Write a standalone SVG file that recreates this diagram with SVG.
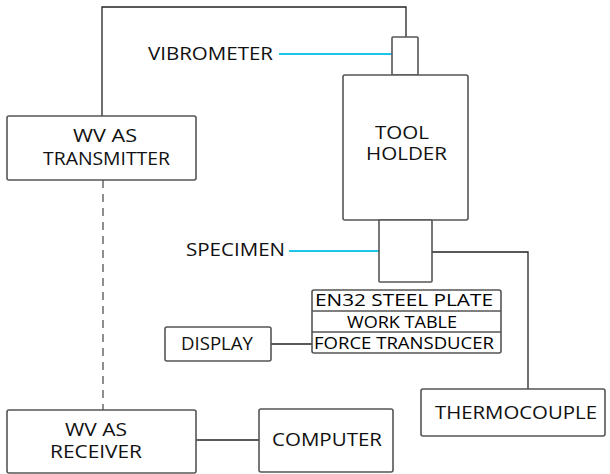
<svg xmlns="http://www.w3.org/2000/svg" width="610" height="474" viewBox="0 0 610 474">
<style>
.box{fill:#fff;stroke:#555;stroke-width:1.6}
.ln{fill:none;stroke:#222;stroke-width:1.3}
.cy{fill:none;stroke:#1cc6ea;stroke-width:1.8}
.dash{fill:none;stroke:#444;stroke-width:1.2;stroke-dasharray:8 6}
text{font-family:"Open Sans","Liberation Sans",sans-serif;font-size:17.5px;fill:#111}
.sm{font-size:16.5px;fill:#000}
</style>
<rect width="610" height="474" fill="#fff"/>
<g id="connectors">
<polyline class="ln" points="102,116 102,7 406,7 406,37"/>
<line class="dash" x1="103" y1="180" x2="103" y2="410"/>
<line class="cy" x1="279" y1="54" x2="392" y2="54"/>
<line class="cy" x1="289" y1="251" x2="379" y2="251"/>
<polyline class="ln" points="432,252 528,252 528,389"/>
<line class="ln" x1="271" y1="344" x2="312" y2="344"/>
<line class="ln" x1="196" y1="440" x2="259" y2="440"/>
</g>
<g id="transmitter">
<rect class="box" x="7" y="116" width="189" height="64" rx="2"/>
<text x="73" y="142" textLength="64" lengthAdjust="spacingAndGlyphs">WV AS</text>
<text x="43" y="165" textLength="127" lengthAdjust="spacingAndGlyphs">TRANSMITTER</text>
</g>
<g id="vibrometer">
<rect class="box" x="392" y="37" width="26" height="38" rx="1"/>
<text x="148" y="60" textLength="125" lengthAdjust="spacingAndGlyphs">VIBROMETER</text>
</g>
<g id="toolholder">
<rect class="box" x="343" y="75" width="125" height="145" rx="2"/>
<text x="375" y="139" textLength="54" lengthAdjust="spacingAndGlyphs">TOOL</text>
<text x="366" y="160" textLength="81" lengthAdjust="spacingAndGlyphs">HOLDER</text>
</g>
<g id="specimen">
<rect class="box" x="379" y="220" width="53" height="62" rx="1"/>
<text x="186" y="256" textLength="99" lengthAdjust="spacingAndGlyphs">SPECIMEN</text>
</g>
<g id="stack">
<rect class="box" x="312" y="290" width="189" height="63" rx="2"/>
<line class="box" x1="312" y1="311" x2="501" y2="311"/>
<line class="box" x1="312" y1="332" x2="501" y2="332"/>
<text class="sm" x="315" y="306" textLength="178" lengthAdjust="spacingAndGlyphs">EN32 STEEL PLATE</text>
<text class="sm" x="347" y="328" textLength="110" lengthAdjust="spacingAndGlyphs">WORK TABLE</text>
<text class="sm" x="314" y="349" textLength="180" lengthAdjust="spacingAndGlyphs">FORCE TRANSDUCER</text>
</g>
<g id="display">
<rect class="box" x="165" y="327" width="106" height="34" rx="2"/>
<text x="181" y="350" textLength="72" lengthAdjust="spacingAndGlyphs">DISPLAY</text>
</g>
<g id="thermocouple">
<rect class="box" x="421" y="389" width="184" height="47" rx="2"/>
<text x="435" y="419" textLength="162" lengthAdjust="spacingAndGlyphs">THERMOCOUPLE</text>
</g>
<g id="receiver">
<rect class="box" x="7" y="410" width="189" height="63" rx="2"/>
<text x="65" y="436" textLength="62" lengthAdjust="spacingAndGlyphs">WV AS</text>
<text x="50" y="458" textLength="92" lengthAdjust="spacingAndGlyphs">RECEIVER</text>
</g>
<g id="computer">
<rect class="box" x="259" y="409" width="134" height="63" rx="2"/>
<text x="272" y="446" textLength="110" lengthAdjust="spacingAndGlyphs">COMPUTER</text>
</g>
</svg>
